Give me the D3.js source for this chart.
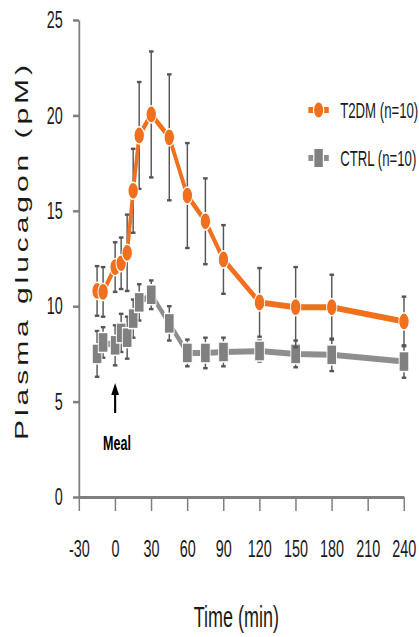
<!DOCTYPE html>
<html>
<head>
<meta charset="utf-8">
<script src="https://cdn.jsdelivr.net/npm/d3@7"></script>
<style>
  html, body { margin: 0; padding: 0; background: #fff; }
  svg { display: block; }
  text { font-family: "Liberation Sans", Arial, sans-serif; }
</style>
</head>
<body>
<svg id="chart" width="419" height="637"></svg>
<script>
// Sampling times (min relative to meal)
const times = [-15, -10, 0, 5, 10, 15, 20, 30, 45, 60, 75, 90, 120, 150, 180, 240];
// Plasma glucagon, mean and SEM (pM)
const t2dmMean = [10.8, 10.75, 12.05, 12.25, 12.8, 16.05, 18.95, 20.05, 18.85, 15.8, 14.45, 12.45, 10.2, 9.95, 9.95, 9.2];
const t2dmSem  = [1.3, 1.3, 1.3, 1.35, 2.0, 2.2, 2.8, 3.3, 3.3, 2.75, 2.25, 1.8, 1.8, 2.1, 1.7, 1.3];
const ctrlMean = [7.5, 8.1, 7.95, 8.6, 8.35, 9.35, 10.2, 10.6, 9.1, 7.55, 7.55, 7.6, 7.65, 7.5, 7.45, 7.1];
const ctrlSem  = [1.2, 0.8, 1.05, 1.0, 1.1, 1.0, 0.95, 0.75, 0.9, 0.7, 0.8, 0.75, 0.55, 0.7, 0.85, 0.85];
// Axis ticks
const xTicks = [-30, 0, 30, 60, 90, 120, 150, 180, 210, 240];
const yTicks = [0, 5, 10, 15, 20, 25];
const seriesNames = ["T2DM (n=10)", "CTRL (n=10)"];

const ORANGE = "#F0701E";
const GREY = "#808080";
const GREY_LINE = "#8E8E8E";
const BAR = "#555555";
const AXIS = "#7F7F7F";
const SX = 0.6; // horizontal squeeze of the whole drawing

const svg = d3.select("#chart");
const g = svg.append("g").attr("transform", `scale(${SX},1)`);

const x = d3.scaleLinear().domain([-30, 240]).range([131.7, 673.3]);
const y = d3.scaleLinear().domain([0, 25]).range([497, 20]);

// Y axis
const yAxis = g.append("g")
  .attr("transform", `translate(${x(-30)},0)`)
  .call(d3.axisLeft(y).tickValues(yTicks).tickFormat(d => String(d))
    .tickSize(10).tickSizeOuter(0).tickPadding(17));
yAxis.select(".domain").attr("stroke", AXIS).attr("stroke-width", 3);
yAxis.selectAll(".tick line").attr("stroke", AXIS).attr("stroke-width", 2.5);
yAxis.selectAll(".tick text").attr("font-size", 24).attr("fill", "#1a1a1a")
  .attr("font-family", "'Liberation Sans', Arial, sans-serif");

// X axis
const xAxis = g.append("g")
  .attr("transform", `translate(0,${y(0)})`)
  .call(d3.axisBottom(x).tickValues(xTicks).tickFormat(d => String(d))
    .tickSize(14).tickSizeOuter(0).tickPadding(29));
xAxis.select(".domain").attr("stroke", AXIS).attr("stroke-width", 3);
xAxis.selectAll(".tick line").attr("stroke", AXIS).attr("stroke-width", 2.5);
xAxis.selectAll(".tick text").attr("font-size", 24).attr("fill", "#1a1a1a")
  .attr("font-family", "'Liberation Sans', Arial, sans-serif");

// Axis titles
g.append("text")
  .attr("x", 394).attr("y", 627)
  .attr("text-anchor", "middle")
  .attr("font-size", 30).attr("fill", "#1a1a1a")
  .text("Time (min)");

g.append("text")
  .attr("transform", `translate(46.7,252.5) rotate(-90)`)
  .attr("text-anchor", "middle")
  .attr("font-size", 30).attr("fill", "#1a1a1a")
  .attr("textLength", 375).attr("lengthAdjust", "spacing")
  .text("Plasma glucagon (pM)");

// Error bars
function errorBars(means, sems, color) {
  const cap = 3.8;
  const eg = g.append("g").attr("stroke", color).attr("fill", "none");
  times.forEach((t, i) => {
    const cx = x(t), lo = y(means[i] - sems[i]), hi = y(means[i] + sems[i]);
    eg.append("line").attr("x1", cx).attr("x2", cx).attr("y1", lo).attr("y2", hi).attr("stroke-width", 2.4);
    eg.append("line").attr("x1", cx - cap).attr("x2", cx + cap).attr("y1", hi).attr("y2", hi).attr("stroke-width", 2.4);
    eg.append("line").attr("x1", cx - cap).attr("x2", cx + cap).attr("y1", lo).attr("y2", lo).attr("stroke-width", 2.4);
  });
}

const line = d3.line().x((d, i) => x(times[i])).y(d => y(d));

// CTRL series
errorBars(ctrlMean, ctrlSem, BAR);
g.append("path").datum(ctrlMean).attr("d", line)
  .attr("fill", "none").attr("stroke", GREY_LINE).attr("stroke-width", 6);
g.append("g").selectAll("rect").data(ctrlMean).join("rect")
  .attr("x", (d, i) => x(times[i]) - 8).attr("y", d => y(d) - 10)
  .attr("width", 16).attr("height", 20)
  .attr("fill", GREY).attr("stroke", "#fff").attr("stroke-width", 1.5);

// T2DM series
errorBars(t2dmMean, t2dmSem, BAR);
g.append("path").datum(t2dmMean).attr("d", line)
  .attr("fill", "none").attr("stroke", ORANGE).attr("stroke-width", 6);
g.append("g").selectAll("circle").data(t2dmMean).join("circle")
  .attr("cx", (d, i) => x(times[i])).attr("cy", d => y(d))
  .attr("r", 8.6)
  .attr("fill", ORANGE).attr("stroke", "#fff").attr("stroke-width", 1.5);

// Legend
const legend = g.append("g");
const legendRows = [
  { name: seriesNames[0], y: 110, color: ORANGE, shape: "circle" },
  { name: seriesNames[1], y: 158, color: GREY, shape: "rect" }
];
legendRows.forEach(r => {
  legend.append("line").attr("x1", 514).attr("x2", 548).attr("y1", r.y).attr("y2", r.y)
    .attr("stroke", r.shape === "circle" ? ORANGE : GREY_LINE).attr("stroke-width", 6);
  if (r.shape === "circle") {
    legend.append("circle").attr("cx", 531).attr("cy", r.y).attr("r", 8.6)
      .attr("fill", r.color).attr("stroke", "#fff").attr("stroke-width", 2);
  } else {
    legend.append("rect").attr("x", 523).attr("y", r.y - 10).attr("width", 16).attr("height", 20)
      .attr("fill", r.color).attr("stroke", "#fff").attr("stroke-width", 2);
  }
  legend.append("text").attr("x", 567).attr("y", r.y + 8)
    .attr("font-size", 22).attr("fill", "#1a1a1a").text(r.name);
});

// Meal marker
const mx = x(0);
g.append("line").attr("x1", mx).attr("x2", mx).attr("y1", 413).attr("y2", 392)
  .attr("stroke", "#000").attr("stroke-width", 3.5);
g.append("path")
  .attr("d", `M${mx},383 L${mx - 6.5},395 L${mx + 6.5},395 Z`)
  .attr("fill", "#000");
g.append("text").attr("x", mx + 3).attr("y", 450)
  .attr("text-anchor", "middle").attr("font-size", 21).attr("font-weight", "bold").attr("fill", "#000")
  .text("Meal");
</script>
</body>
</html>
